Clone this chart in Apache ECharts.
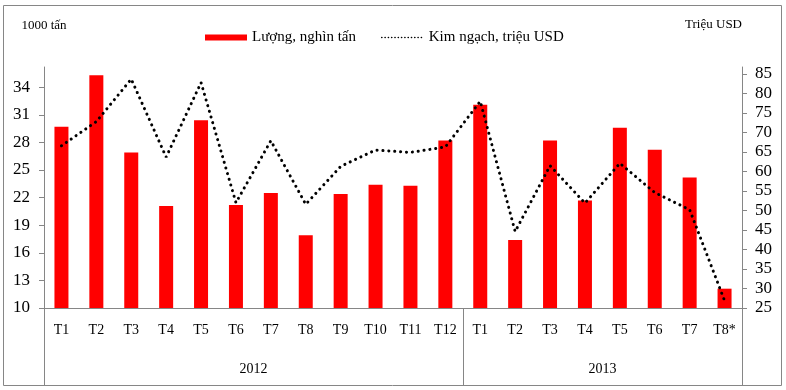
<!DOCTYPE html>
<html>
<head>
<meta charset="utf-8">
<script src="https://cdn.jsdelivr.net/npm/echarts@6/dist/echarts.min.js"></script>
<style>html,body{margin:0;padding:0;background:#fff;}#c{width:786px;height:390px;}</style>
</head>
<body>
<div id="c"></div>
<script>
const months = ['T1','T2','T3','T4','T5','T6','T7','T8','T9','T10','T11','T12','T1','T2','T3','T4','T5','T6','T7','T8*'];
const years = ['2012','2013'];
const yearCenters = [6, 16];
const yearBounds = [0, 12, 20];
const volume = [29.7,35.3,26.9,21.1,30.4,21.2,22.5,17.9,22.4,23.4,23.3,28.2,32.1,17.4,28.2,21.7,29.6,27.2,24.2,12.1];
const value = [66.6,72.8,83.7,63.7,82.8,52.0,67.9,51.6,61.3,65.5,64.9,66.3,78.0,44.6,61.5,51.9,62.1,54.6,50.2,26.9];
const leftTicks = [10,13,16,19,22,25,28,31,34];
const rightTicks = [25,30,35,40,45,50,55,60,65,70,75,80,85];
const seriesNames = ['Lượng, nghìn tấn','Kim ngạch, triệu USD'];

const FONT = 'Liberation Serif';
const GRAY = '#868686';
const chart = echarts.init(document.getElementById('c'), null, {renderer:'canvas'});
chart.setOption({
  animation:false,
  backgroundColor:'#fff',
  textStyle:{fontFamily:FONT},
  graphic:[{type:'rect',shape:{x:3.5,y:5.5,width:778,height:380},style:{fill:'none',stroke:GRAY,lineWidth:1}}],
  legend:{
    left:205, top:30, padding:0, itemGap:25, itemWidth:42, itemHeight:6,
    textStyle:{fontFamily:FONT,fontSize:15,color:'#000'},
    data:[
      {name:seriesNames[0],icon:'rect'},
      {name:seriesNames[1],itemStyle:{opacity:0},lineStyle:{type:[0.1,3.2],width:1.6,cap:'round',color:'#000'}}
    ]
  },
  grid:{left:44,right:44,top:67,bottom:82,containLabel:false},
  xAxis:[
    {type:'category',data:months,position:'bottom',
     axisLine:{lineStyle:{color:GRAY,width:1}},axisTick:{show:false},
     axisLabel:{interval:0,margin:15,fontFamily:FONT,fontSize:14,color:'#000'}},
    {type:'value',min:0,max:20,position:'bottom',
     axisLine:{show:false},splitLine:{show:false},
     axisTick:{show:true,customValues:yearBounds,length:77,lineStyle:{color:GRAY,width:1}},
     axisLabel:{customValues:yearCenters,margin:54,fontFamily:FONT,fontSize:14,color:'#000',
       formatter:function(v){const i=yearCenters.indexOf(v);return i>=0?years[i]:'';}}}
  ],
  yAxis:[
    {type:'value',min:10,max:36.2,position:'left',name:'1000 tấn',nameLocation:'end',nameGap:35,
     nameTextStyle:{fontFamily:FONT,fontSize:13,color:'#000',align:'center'},
     axisLine:{show:true,lineStyle:{color:GRAY,width:1}},
     axisTick:{show:true,customValues:leftTicks,length:5,lineStyle:{color:GRAY}},
     axisLabel:{customValues:leftTicks,margin:14,fontFamily:FONT,fontSize:17,color:'#000'},
     splitLine:{show:false}},
    {type:'value',min:25,max:86.8,position:'right',name:'Triệu USD',nameLocation:'end',nameGap:36,
     nameTextStyle:{fontFamily:FONT,fontSize:13,color:'#000',align:'right'},
     axisLine:{show:true,lineStyle:{color:GRAY,width:1}},
     axisTick:{show:true,customValues:rightTicks,length:5,lineStyle:{color:GRAY}},
     axisLabel:{customValues:rightTicks,margin:13,fontFamily:FONT,fontSize:17,color:'#000'},
     splitLine:{show:false}}
  ],
  series:[
    {name:seriesNames[0],type:'bar',xAxisIndex:0,yAxisIndex:0,data:volume,barWidth:14,
     itemStyle:{color:'#ff0000'}},
    {name:seriesNames[1],type:'line',xAxisIndex:0,yAxisIndex:1,data:value,symbol:'none',
     lineStyle:{color:'#000',width:3,type:[0.1,5.8],cap:'round'},itemStyle:{color:'#000'},z:3}
  ]
});
</script>
</body>
</html>
